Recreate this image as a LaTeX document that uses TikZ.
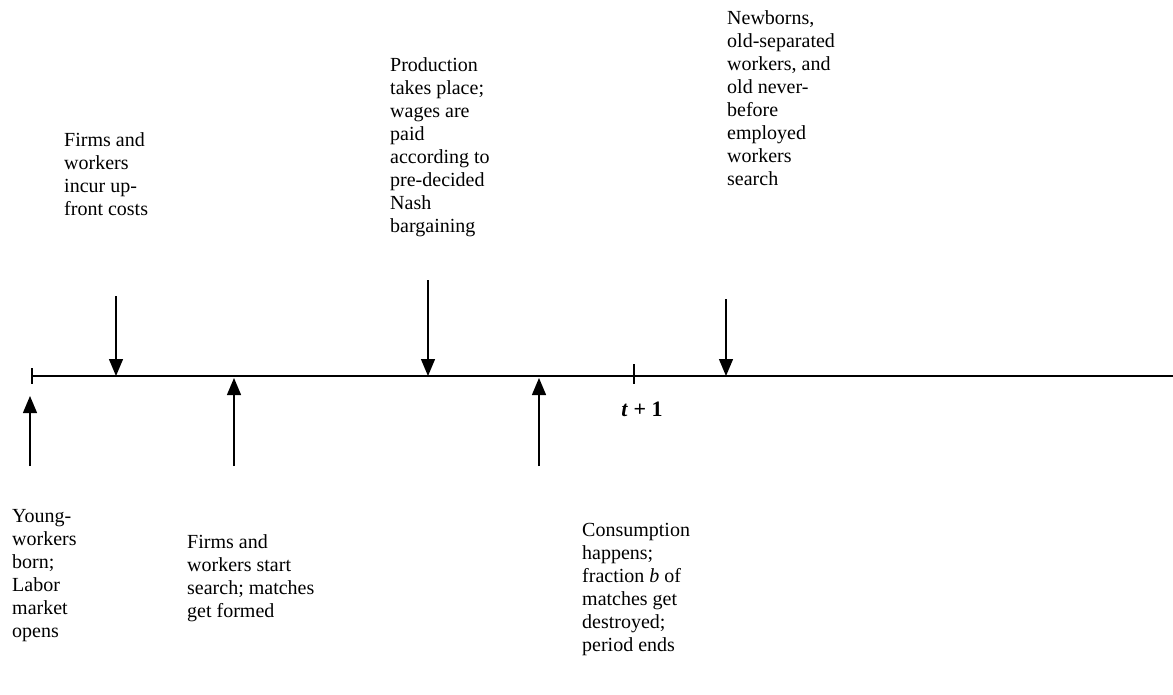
\documentclass[tikz,border=0pt]{standalone}
\usepackage{fontspec}
\setmainfont{Liberation Serif}
\usetikzlibrary{arrows.meta}
\begin{document}
\begin{tikzpicture}[x=1pt,y=-1pt,
  lbl/.style={anchor=north west,align=left,inner sep=0pt,font=\fontsize{20}{23}\selectfont},
  axisline/.style={line width=1.3pt},
  evarrow/.style={line width=1.3pt,-{Triangle[length=17pt,width=14pt]}}]
\useasboundingbox (0,0) rectangle (1173,694);
% axis
\coordinate (a0) at (31,376);
\coordinate (a1) at (1173,376);
\draw[axisline] (a0) -- (a1);
\coordinate (t0a) at (32,368); \coordinate (t0b) at (32,384);
\draw[axisline] (t0a) -- (t0b);
\coordinate (t1a) at (634,364); \coordinate (t1b) at (634,384);
\draw[axisline] (t1a) -- (t1b);
\node[inner sep=0pt,font=\fontsize{22}{25}\selectfont\bfseries] (tlab) at (642,409) {\textit{t} + 1};
% top labels
\node[lbl] (upfront) at (64,132) {Firms and\\workers\\incur up-\\front costs};
\node[lbl] (prod) at (390,57) {Production\\takes place;\\wages are\\paid\\according to\\pre-decided\\Nash\\bargaining};
\node[lbl] (newb) at (727,10) {Newborns,\\old-separated\\workers, and\\old never-\\before\\employed\\workers\\search};
% bottom labels
\node[lbl] (young) at (12,509) {Young-\\workers\\born;\\Labor\\market\\opens};
\node[lbl] (search) at (187,534) {Firms and\\workers start\\search; matches\\get formed};
\node[lbl] (cons) at (582,523) {Consumption\\happens;\\fraction \textit{b} of\\matches get\\destroyed;\\period ends};
% arrows down
\coordinate (d1s) at (116,296); \coordinate (d1e) at (116,376);
\coordinate (d2s) at (428,280); \coordinate (d2e) at (428,376);
\coordinate (d3s) at (726,299); \coordinate (d3e) at (726,376);
\draw[evarrow] (d1s) -- (d1e);
\draw[evarrow] (d2s) -- (d2e);
\draw[evarrow] (d3s) -- (d3e);
% arrows up
\coordinate (u1s) at (30,466); \coordinate (u1e) at (30,396);
\coordinate (u2s) at (234,466); \coordinate (u2e) at (234,378);
\coordinate (u3s) at (539,466); \coordinate (u3e) at (539,378);
\draw[evarrow] (u1s) -- (u1e);
\draw[evarrow] (u2s) -- (u2e);
\draw[evarrow] (u3s) -- (u3e);
\end{tikzpicture}
\end{document}
